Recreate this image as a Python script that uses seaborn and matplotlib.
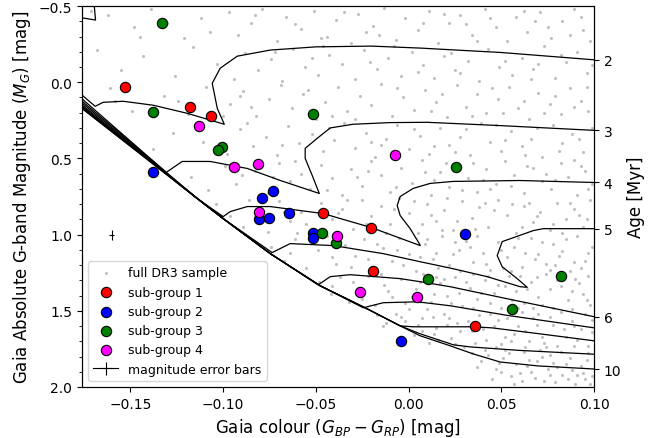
import pandas as pd
import seaborn as sns
import matplotlib.pyplot as plt
from matplotlib.ticker import MultipleLocator

# sub-group members: Gaia colour (BP-RP) and absolute G magnitude
g1_col = [-0.1527, -0.1177, -0.1063, -0.046, -0.020, -0.019, 0.036]
g1_mag = [0.033, 0.164, 0.224, 0.855, 0.954, 1.237, 1.599]

g2_col = [-0.1376, -0.0729, -0.0789, -0.0805, -0.0751, -0.0643, -0.0514, -0.0514, 0.0306, -0.0039]
g2_mag = [0.592, 0.711, 0.763, 0.895, 0.888, 0.855, 0.987, 1.020, 0.993, 1.697]

g3_col = [-0.1328, -0.1376, -0.1004, -0.1026, -0.0514, -0.0465, -0.039, 0.0106, 0.0257, 0.0823, 0.0559]
g3_mag = [-0.388, 0.197, 0.428, 0.447, 0.211, 0.987, 1.053, 1.289, 0.559, 1.270, 1.487]

g4_col = [-0.1128, -0.0939, -0.081, -0.0072, -0.0805, -0.0384, -0.026, 0.0047]
g4_mag = [0.289, 0.559, 0.539, 0.480, 0.849, 1.007, 1.375, 1.408]

# typical magnitude error
err_col, err_mag = -0.160, 1.0
err_dmag, err_dcol = 0.033, 0.0012

# full DR3 sample (approximate positions)
bg_stars = [
    (-0.171,-0.47),(-0.162,-0.44),(-0.148,-0.36),(-0.139,-0.48),(-0.121,-0.29),(-0.112,-0.42),(-0.097,-0.46),
    (-0.092,-0.31),(-0.085,-0.39),(-0.079,-0.48),(-0.071,-0.27),(-0.066,-0.43),(-0.058,-0.35),(-0.051,-0.47),
    (-0.044,-0.30),(-0.039,-0.41),(-0.031,-0.26),(-0.027,-0.45),(-0.019,-0.37),(-0.013,-0.49),(-0.007,-0.28),
    (-0.002,-0.42),(0.005,-0.34),(0.011,-0.47),(0.016,-0.26),(0.022,-0.39),(0.028,-0.44),(0.034,-0.31),
    (0.041,-0.48),(0.047,-0.36),(0.053,-0.27),(0.058,-0.43),(0.064,-0.33),(0.071,-0.46),(0.077,-0.29),
    (0.083,-0.40),(0.089,-0.48),(0.094,-0.34),(0.098,-0.27),(-0.023,-0.33),(0.031,-0.38),(0.068,-0.40),
    (-0.168,-0.21),(-0.155,-0.08),(-0.143,-0.17),(-0.126,-0.04),(-0.116,-0.23),(-0.103,-0.12),(-0.094,-0.02),
    (-0.088,-0.19),(-0.081,-0.08),(-0.074,-0.15),(-0.068,-0.01),(-0.062,-0.22),(-0.056,-0.10),(-0.049,-0.05),
    (-0.043,-0.18),(-0.036,-0.12),(-0.029,-0.02),(-0.024,-0.21),(-0.017,-0.09),(-0.011,-0.16),(-0.004,-0.04),
    (0.002,-0.20),(0.008,-0.11),(0.014,-0.03),(0.019,-0.17),(0.025,-0.08),(0.032,-0.14),(0.038,-0.01),
    (0.043,-0.22),(0.049,-0.10),(0.056,-0.05),(0.061,-0.16),(0.067,-0.09),(0.073,-0.24),(0.079,-0.03),
    (0.085,-0.13),(0.091,-0.20),(0.096,-0.06),(-0.052,-0.16),(0.028,-0.06),(0.070,-0.12),(-0.008,-0.24),
    (-0.161,0.04),(-0.149,0.19),(-0.132,0.09),(-0.119,0.21),(-0.109,0.03),(-0.096,0.14),(-0.089,0.06),
    (-0.082,0.22),(-0.075,0.11),(-0.069,0.02),(-0.063,0.17),(-0.057,0.08),(-0.050,0.24),(-0.045,0.13),
    (-0.038,0.03),(-0.033,0.19),(-0.026,0.09),(-0.020,0.15),(-0.015,0.01),(-0.009,0.22),(-0.003,0.10),
    (0.003,0.18),(0.009,0.05),(0.015,0.13),(0.021,0.23),(0.026,0.02),(0.031,0.16),(0.037,0.08),
    (0.042,0.20),(0.048,0.11),(0.054,0.03),(0.059,0.17),(0.065,0.24),(0.070,0.07),(0.076,0.14),
    (0.082,0.21),(0.087,0.04),(0.093,0.12),(0.097,0.19),(-0.041,0.22),(0.012,0.19),(0.051,0.20),(0.079,0.09),
    (-0.138,0.44),(-0.127,0.33),(-0.111,0.39),(-0.098,0.47),(-0.091,0.31),(-0.084,0.42),(-0.077,0.36),
    (-0.071,0.48),(-0.065,0.29),(-0.059,0.40),(-0.052,0.34),(-0.046,0.45),(-0.040,0.38),(-0.035,0.27),
    (-0.029,0.43),(-0.023,0.33),(-0.018,0.49),(-0.012,0.37),(-0.006,0.28),(0.000,0.44),(0.006,0.35),
    (0.011,0.47),(0.017,0.30),(0.022,0.41),(0.028,0.36),(0.033,0.48),(0.039,0.27),(0.044,0.39),
    (0.050,0.45),(0.055,0.32),(0.061,0.42),(0.066,0.37),(0.072,0.49),(0.078,0.28),(0.083,0.40),
    (0.088,0.34),(0.094,0.46),(0.099,0.30),(-0.015,0.41),(0.025,0.46),(0.069,0.30),(-0.087,0.27),(0.047,0.28),
    (-0.117,0.62),(-0.108,0.71),(-0.099,0.55),(-0.093,0.67),(-0.083,0.58),(-0.076,0.73),(-0.070,0.53),
    (-0.064,0.65),(-0.058,0.60),(-0.053,0.70),(-0.047,0.54),(-0.041,0.63),(-0.036,0.74),(-0.031,0.57),
    (-0.025,0.68),(-0.020,0.52),(-0.015,0.61),(-0.010,0.72),(-0.004,0.56),(0.002,0.66),(0.007,0.51),
    (0.012,0.74),(0.017,0.59),(0.022,0.69),(0.027,0.54),(0.032,0.63),(0.037,0.72),(0.042,0.57),
    (0.047,0.67),(0.052,0.52),(0.057,0.61),(0.062,0.73),(0.067,0.56),(0.072,0.65),(0.077,0.70),
    (0.082,0.53),(0.086,0.62),(0.091,0.74),(0.095,0.58),(0.099,0.67),(-0.028,0.62),(0.014,0.64),
    (0.044,0.70),(0.074,0.60),(-0.061,0.52),(0.035,0.53),(0.089,0.51),
    (-0.104,0.80),(-0.096,0.88),(-0.089,0.95),(-0.082,0.84),(-0.076,0.98),(-0.070,0.78),(-0.064,0.91),
    (-0.058,0.85),(-0.052,0.97),(-0.047,0.79),(-0.041,0.90),(-0.036,0.83),(-0.030,0.96),(-0.025,0.77),
    (-0.020,0.88),(-0.015,0.81),(-0.010,0.93),(-0.005,0.76),(0.000,0.86),(0.005,0.99),(0.010,0.80),
    (0.015,0.91),(0.019,0.84),(0.024,0.97),(0.029,0.78),(0.034,0.89),(0.038,0.82),(0.043,0.95),
    (0.048,0.77),(0.053,0.87),(0.058,0.99),(0.062,0.81),(0.067,0.92),(0.071,0.85),(0.076,0.97),
    (0.080,0.79),(0.085,0.90),(0.089,0.83),(0.094,0.95),(0.098,0.77),(-0.033,0.77),(0.007,0.93),
    (0.041,0.79),(0.083,0.99),(-0.060,0.99),(0.021,0.76),(0.065,0.79),(0.092,0.87),(-0.012,0.99),
    (-0.074,1.08),(-0.067,1.17),(-0.061,1.03),(-0.055,1.22),(-0.049,1.10),(-0.044,1.01),(-0.039,1.19),
    (-0.034,1.07),(-0.029,1.14),(-0.024,1.03),(-0.019,1.23),(-0.014,1.09),(-0.009,1.17),(-0.005,1.02),
    (0.000,1.13),(0.004,1.24),(0.009,1.06),(0.013,1.16),(0.018,1.01),(0.022,1.20),(0.027,1.10),
    (0.031,1.04),(0.035,1.18),(0.040,1.12),(0.044,1.23),(0.048,1.05),(0.053,1.15),(0.057,1.08),
    (0.061,1.21),(0.066,1.02),(0.070,1.13),(0.074,1.19),(0.078,1.06),(0.083,1.11),(0.087,1.24),
    (0.091,1.01),(0.095,1.17),(0.099,1.08),(-0.022,1.16),(0.015,1.12),(0.051,1.22),(0.085,1.03),
    (-0.052,1.04),(0.037,1.01),(0.068,1.16),(0.093,1.22),(-0.003,1.20),(0.025,1.05),(0.059,1.02),(0.079,1.20),
    (-0.048,1.31),(-0.042,1.39),(-0.037,1.28),(-0.032,1.44),(-0.027,1.35),(-0.022,1.27),(-0.018,1.46),
    (-0.013,1.33),(-0.009,1.41),(-0.004,1.29),(0.000,1.49),(0.004,1.36),(0.008,1.26),(0.012,1.44),
    (0.017,1.32),(0.021,1.40),(0.025,1.28),(0.029,1.47),(0.033,1.35),(0.037,1.42),(0.041,1.30),
    (0.046,1.38),(0.050,1.48),(0.054,1.27),(0.058,1.37),(0.062,1.45),(0.066,1.31),(0.070,1.41),
    (0.074,1.26),(0.078,1.48),(0.082,1.34),(0.086,1.43),(0.090,1.29),(0.094,1.39),(0.098,1.46),
    (-0.015,1.26),(0.010,1.49),(0.027,1.38),(0.044,1.45),(0.060,1.27),(0.076,1.36),(0.092,1.32),
    (-0.030,1.31),(0.019,1.29),(0.052,1.34),(0.084,1.27),(0.067,1.48),(0.035,1.26),(0.002,1.41),(0.088,1.49),
    (-0.017,1.53),(-0.012,1.58),(-0.007,1.52),(-0.002,1.57),(0.003,1.66),(0.007,1.55),(0.011,1.71),
    (0.015,1.61),(0.019,1.52),(0.023,1.68),(0.026,1.58),(0.030,1.74),(0.034,1.63),(0.038,1.53),
    (0.042,1.69),(0.046,1.60),(0.050,1.72),(0.053,1.55),(0.057,1.65),(0.061,1.51),(0.065,1.70),
    (0.069,1.59),(0.072,1.67),(0.076,1.54),(0.080,1.73),(0.084,1.62),(0.088,1.57),(0.091,1.69),
    (0.095,1.52),(0.099,1.64),(0.013,1.54),(0.028,1.63),(0.044,1.52),(0.059,1.60),(0.074,1.74),
    (0.089,1.60),(0.036,1.71),(0.067,1.55),(0.082,1.51),(0.097,1.73),(0.021,1.59),(0.052,1.67),
    (0.007,1.63),(0.063,1.74),
    (0.034,1.78),(0.039,1.83),(0.043,1.79),(0.047,1.88),(0.051,1.81),(0.055,1.93),(0.058,1.85),
    (0.062,1.77),(0.066,1.90),(0.069,1.83),(0.073,1.96),(0.076,1.79),(0.080,1.87),(0.083,1.92),
    (0.087,1.81),(0.090,1.98),(0.093,1.86),(0.097,1.78),(0.099,1.93),(0.061,1.96),(0.078,1.84),
    (0.094,1.91),(0.052,1.76),(0.071,1.76),(0.086,1.95),(0.045,1.95),(0.065,1.82),
    # second pass, filling the denser parts
    (-0.083,-0.44),(-0.061,-0.38),(-0.047,-0.29),(-0.035,-0.46),(-0.016,-0.31),(0.008,-0.39),(0.019,-0.45),
    (0.037,-0.27),(0.044,-0.42),(0.062,-0.47),(0.075,-0.36),(0.087,-0.31),(0.093,-0.43),(-0.072,-0.20),
    (-0.046,-0.24),(-0.021,-0.13),(0.005,-0.07),(0.023,-0.19),(0.052,-0.14),(0.066,-0.02),(0.082,-0.18),
    (0.099,-0.11),(-0.085,0.16),(-0.054,0.05),(-0.029,0.24),(-0.006,0.04),(0.018,0.08),(0.034,0.22),
    (0.045,0.04),(0.062,0.12),(0.073,0.20),(0.089,0.16),(0.096,0.03),(-0.068,0.41),(-0.043,0.30),
    (-0.020,0.39),(0.003,0.31),(0.014,0.42),(0.031,0.31),(0.052,0.38),(0.063,0.48),(0.081,0.45),
    (0.092,0.37),(-0.100,0.22),(-0.124,0.12),(-0.145,-0.30),(-0.158,0.12),(-0.130,-0.39),(-0.107,-0.33),
    (-0.091,0.09),
    (-0.090,0.61),(-0.073,0.62),(-0.044,0.71),(-0.022,0.58),(-0.007,0.69),(0.009,0.59),(0.020,0.53),
    (0.029,0.71),(0.040,0.64),(0.055,0.68),(0.064,0.55),(0.079,0.64),(0.093,0.55),(0.097,0.70),
    (-0.086,0.77),(-0.067,0.85),(-0.055,0.93),(-0.038,0.86),(-0.023,0.93),(-0.008,0.83),(0.003,0.78),
    (0.012,0.87),(0.026,0.91),(0.036,0.96),(0.046,0.84),(0.056,0.80),(0.069,0.88),(0.078,0.93),
    (0.087,0.79),(0.096,0.90),(0.018,0.97),(0.061,0.95),
    (-0.064,1.12),(-0.041,1.15),(-0.031,1.21),(-0.017,1.06),(-0.006,1.10),(0.006,1.15),(0.016,1.22),
    (0.024,1.13),(0.033,1.08),(0.042,1.19),(0.050,1.10),(0.063,1.12),(0.072,1.05),(0.081,1.14),
    (0.089,1.18),(0.097,1.12),(0.055,1.24),(0.028,1.24),(0.010,1.03),(0.076,1.23),
    (-0.041,1.34),(-0.025,1.42),(-0.011,1.37),(-0.002,1.45),(0.006,1.31),(0.014,1.39),(0.023,1.45),
    (0.031,1.31),(0.039,1.38),(0.048,1.33),(0.056,1.43),(0.064,1.36),(0.072,1.46),(0.080,1.30),
    (0.088,1.37),(0.096,1.43),(0.043,1.27),(0.069,1.28),(0.015,1.28),(0.097,1.27),(0.059,1.48),(0.035,1.48),
    (-0.014,1.60),(-0.004,1.54),(0.005,1.59),(0.014,1.65),(0.022,1.55),(0.032,1.57),(0.040,1.62),
    (0.048,1.56),(0.055,1.70),(0.063,1.63),(0.070,1.52),(0.078,1.59),(0.085,1.67),(0.093,1.62),
    (0.099,1.56),(0.025,1.72),(0.047,1.74),(0.073,1.71),(0.089,1.73),(0.016,1.69),
    (0.037,1.87),(0.041,1.76),(0.049,1.84),(0.054,1.78),(0.057,1.98),(0.064,1.86),(0.068,1.94),
    (0.075,1.88),(0.079,1.97),(0.082,1.77),(0.085,1.85),(0.091,1.92),(0.096,1.82),(0.098,1.98),
    (0.072,1.80),(0.088,1.89),(0.060,1.91),(0.095,1.95),(0.050,1.90),(0.076,1.92),
]

# isochrones (age in Myr): colour and magnitude along each track
iso_ages = [1, 2, 3, 4, 5, 6, 7, 8, 9, 10]
iso_col = {
    1: [-0.19, -0.1753, -0.1687, -0.1694, -0.1697],
    2: [-0.19, -0.1689, -0.1646, -0.1538, -0.1376, -0.1193, -0.0993, -0.1031, -0.1058, -0.1015,
        -0.0923, -0.0745, -0.05, -0.02, 0.0063, 0.05, 0.1001],
    3: [-0.19, -0.1306, -0.122, -0.1069, -0.0869, -0.0691, -0.0481, -0.0519, -0.0557, -0.0557,
        -0.0492, -0.0422, -0.03, -0.01, 0.01, 0.05, 0.1001],
    4: [-0.19, -0.1139, -0.0999, -0.0961, -0.0869, -0.0745, -0.0621, -0.046, -0.02, 0.0063,
        0.0058, 0.0009, -0.0045, -0.0061, -0.0045, 0.0025, 0.0117, 0.0241, 0.06, 0.1001],
    5: [-0.19, -0.1139, -0.0999, -0.0735, -0.0638, -0.0406, -0.0136, 0.0063, 0.0241, 0.0424,
        0.0602, 0.064, 0.0586, 0.0505, 0.0478, 0.0505, 0.0672, 0.0726, 0.1001],
    6: [-0.19, -0.1139, -0.0999, -0.0745, -0.0487, -0.0422, -0.0314, -0.0045, 0.0063, 0.0225,
        0.0532, 0.1001],
    7: [-0.19, -0.1139, -0.0999, -0.0745, -0.0476, -0.0244, -0.0136, 0.0047, 0.0225, 0.0532, 0.1001],
    8: [-0.19, -0.1139, -0.0999, -0.0745, -0.0476, -0.0223, -0.0045, 0.0025, 0.0117, 0.0225,
        0.0349, 0.045, 0.07, 0.1001],
    9: [-0.19, -0.1139, -0.0999, -0.0745, -0.0476, -0.0223, -0.0045, 0.0063, 0.0241, 0.0333,
        0.06, 0.1001],
    10: [-0.19, -0.1139, -0.0999, -0.0745, -0.0476, -0.0223, -0.0045, 0.0063, 0.0225, 0.0349,
         0.0494, 0.07, 0.1001],
}
iso_mag = {
    1: [-0.445, -0.421, -0.408, -0.5, -0.56],
    2: [-0.06, 0.158, 0.132, 0.125, 0.151, 0.204, 0.276, 0.171, 0.007, -0.092,
        -0.171, -0.211, -0.232, -0.237, -0.224, -0.195, -0.147],
    3: [-0.04, 0.592, 0.520, 0.520, 0.566, 0.645, 0.730, 0.612, 0.5, 0.434,
        0.368, 0.30, 0.276, 0.265, 0.263, 0.285, 0.316],
    4: [-0.02, 0.763, 0.882, 0.849, 0.816, 0.816, 0.836, 0.862, 0.954, 1.072,
        1.059, 0.961, 0.875, 0.809, 0.750, 0.697, 0.664, 0.651, 0.645, 0.658],
    5: [-0.005, 0.763, 0.895, 1.118, 1.059, 1.072, 1.125, 1.178, 1.224, 1.276,
        1.342, 1.346, 1.289, 1.211, 1.138, 1.046, 0.974, 0.961, 0.961],
    6: [0.01, 0.763, 0.895, 1.125, 1.33, 1.276, 1.263, 1.289, 1.309, 1.342, 1.421, 1.539],
    7: [0.02, 0.763, 0.895, 1.125, 1.336, 1.48, 1.447, 1.441, 1.467, 1.53, 1.612],
    8: [0.03, 0.763, 0.895, 1.125, 1.336, 1.487, 1.599, 1.605, 1.605, 1.605,
        1.605, 1.612, 1.65, 1.697],
    9: [0.035, 0.763, 0.895, 1.125, 1.336, 1.487, 1.599, 1.651, 1.723, 1.737, 1.76, 1.785],
    10: [0.04, 0.763, 0.895, 1.125, 1.336, 1.487, 1.599, 1.664, 1.730, 1.783, 1.836, 1.862, 1.882],
}
age_labels = {2: "2", 3: "3", 4: "4", 5: "5", 6: "6", 10: "10"}

bg = pd.DataFrame(bg_stars, columns=["col", "mag"])
iso = pd.concat([pd.DataFrame({"col": iso_col[a], "mag": iso_mag[a], "age": a, "step": range(len(iso_col[a]))})
                 for a in iso_ages], ignore_index=True)

fig = plt.figure(figsize=(6.54, 4.39), dpi=100)
ax = fig.add_axes([0.1254, 0.1162, 0.7829, 0.8678])

sns.scatterplot(data=bg, x="col", y="mag", ax=ax, color="#c0c0c0", s=5, linewidth=0,
                label="full DR3 sample", zorder=1)
sns.lineplot(data=iso, x="col", y="mag", units="age", estimator=None, sort=False, ax=ax,
             color="k", lw=0.9, legend=False, zorder=2)

groups = [(g1_col, g1_mag, "red", "sub-group 1"), (g2_col, g2_mag, "blue", "sub-group 2"),
          (g3_col, g3_mag, "green", "sub-group 3"), (g4_col, g4_mag, "magenta", "sub-group 4")]
for c, m, colour, lab in groups:
    sns.scatterplot(x=c, y=m, ax=ax, color=colour, s=55, edgecolor="k", linewidth=0.8,
                    label=lab, zorder=3)

ax.errorbar([err_col], [err_mag], yerr=[err_dmag], xerr=[err_dcol], color="k", lw=0.8,
            label="magnitude error bars")

ax.set_xlim(-0.176, 0.1)
ax.set_ylim(2.0, -0.5)
ax.yaxis.set_minor_locator(MultipleLocator(0.1))
ax.set_xlabel(r"Gaia colour ($G_{BP} - G_{RP}$) [mag]", fontsize=12)
ax.set_ylabel(r"Gaia Absolute G-band Magnitude ($M_G$) [mag]", fontsize=12)
ax.legend(loc="lower left", fontsize=9)

# right axis: isochrone ages at the end of each track
ax2 = ax.twinx()
ax2.set_ylim(ax.get_ylim())
ax2.set_yticks([iso_mag[a][-1] for a in age_labels])
ax2.set_yticklabels(list(age_labels.values()))
ax2.set_ylabel("Age [Myr]", fontsize=12)

fig.savefig("out.png", dpi=100)
